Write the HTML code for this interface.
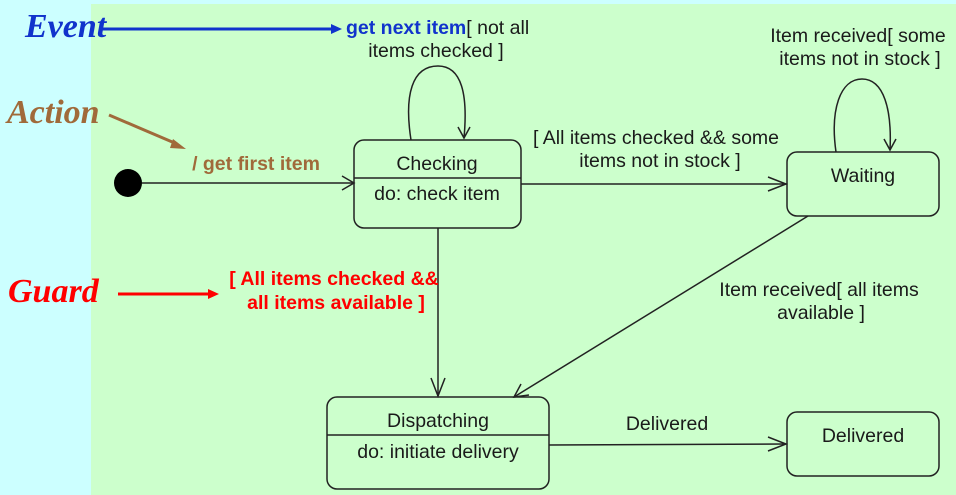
<!DOCTYPE html>
<html><head><meta charset="utf-8"><style>
html,body{margin:0;padding:0;width:956px;height:495px;overflow:hidden;background:#ccffff}
svg{display:block}
text{font-family:"Liberation Sans",sans-serif;font-size:19.5px;fill:#1a1a1a}
</style></head><body>
<svg width="956" height="495" viewBox="0 0 956 495">
<rect x="0" y="0" width="956" height="495" fill="#ccffff"/>
<rect x="91" y="4" width="865" height="491" fill="#ccffcc"/>
<g fill="none" stroke="#222" stroke-width="1.5">
<rect x="354" y="140" width="167" height="88" rx="10"/>
<line x1="354" y1="178" x2="521" y2="178"/>
<rect x="787" y="152" width="152" height="64" rx="10"/>
<rect x="327" y="397" width="222" height="92" rx="10"/>
<line x1="327" y1="435" x2="549" y2="435"/>
<rect x="787" y="412" width="152" height="64" rx="10"/>
<line x1="142" y1="183" x2="354" y2="183"/>
<polyline points="342,176 354,183 342,190"/>
<line x1="521" y1="184" x2="787" y2="184"/>
<polyline points="768,177 786,184 768,191"/>
<line x1="438" y1="228" x2="438" y2="396"/>
<polyline points="431,378 438,396 445,378"/>
<line x1="808" y1="216" x2="514" y2="397"/>
<polyline points="521,384 514,397 529,395"/>
<line x1="549" y1="445" x2="786" y2="444"/>
<polyline points="768,437 786,444 768,451"/>
<path d="M411,140 C404,95 412,66 438,66 C462,66 468,95 464,138"/>
<polyline points="458,127 464,138 470,127"/>
<path d="M836,152 C830,110 840,79 862,79 C884,79 892,110 890,150"/>
<polyline points="884,139 890,150 896,139"/>
</g>
<circle cx="128" cy="183" r="14" fill="#000"/>
<text x="437" y="170" text-anchor="middle">Checking</text>
<text x="437" y="200" text-anchor="middle">do: check item</text>
<text x="863" y="182" text-anchor="middle">Waiting</text>
<text x="438" y="427" text-anchor="middle">Dispatching</text>
<text x="438" y="458" text-anchor="middle">do: initiate delivery</text>
<text x="863" y="442" text-anchor="middle">Delivered</text>
<text x="667" y="430" text-anchor="middle">Delivered</text>
<text x="656" y="144" text-anchor="middle">[ All items checked &amp;&amp; some</text>
<text x="660" y="167" text-anchor="middle">items not in stock ]</text>
<text x="858" y="42" text-anchor="middle">Item received[ some</text>
<text x="860" y="65" text-anchor="middle">items not in stock ]</text>
<text x="819" y="296" text-anchor="middle">Item received[ all items</text>
<text x="821" y="319" text-anchor="middle">available ]</text>
<text x="346" y="34"><tspan fill="#1133cc" font-weight="bold">get next item</tspan>[ not all</text>
<text x="436" y="57" text-anchor="middle">items checked ]</text>
<text x="256" y="170" text-anchor="middle" style="fill:#a06a3a;font-weight:bold">/ get first item</text>
<text x="334" y="285" text-anchor="middle" style="fill:#ff0000;font-weight:bold">[ All items checked &amp;&amp;</text>
<text x="336" y="309" text-anchor="middle" style="fill:#ff0000;font-weight:bold">all items available ]</text>
<text x="25" y="37" style="font-family:'Liberation Serif',serif;font-size:34px;font-style:italic;font-weight:bold;fill:#1133cc">Event</text>
<text x="7" y="123" style="font-family:'Liberation Serif',serif;font-size:34px;font-style:italic;font-weight:bold;fill:#a06a3a">Action</text>
<text x="8" y="302" style="font-family:'Liberation Serif',serif;font-size:34px;font-style:italic;font-weight:bold;fill:#ff0000">Guard</text>
<line x1="102" y1="29" x2="333" y2="29" stroke="#1133cc" stroke-width="3"/>
<polygon points="331,24 342,29 331,34" fill="#1133cc"/>
<line x1="109" y1="115" x2="177" y2="144" stroke="#a06a3a" stroke-width="3"/>
<polygon points="173,139 186,149 170,148" fill="#a06a3a"/>
<line x1="118" y1="294" x2="210" y2="294" stroke="#ff0000" stroke-width="3"/>
<polygon points="208,289 219,294 208,299" fill="#ff0000"/>
</svg>
</body></html>
